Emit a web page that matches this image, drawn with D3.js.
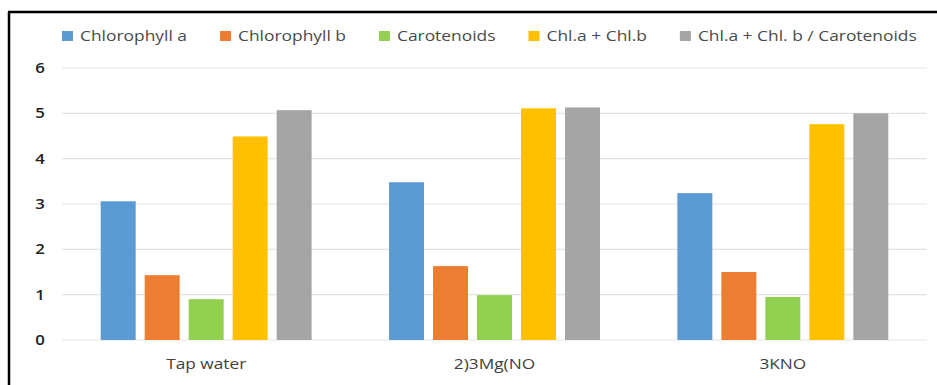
<!DOCTYPE html>
<html>
<head>
<meta charset="utf-8">
<script src="https://cdn.jsdelivr.net/npm/d3@7"></script>
<style>
  html, body { margin: 0; padding: 0; background: #fff; }
  svg { display: block; }
</style>
</head>
<body>
<svg id="chart" width="937" height="385"></svg>
<script>
// Treatments along the x axis
const categories = ["Tap water", "2)3Mg(NO", "3KNO"];
// Pigment series, one value per treatment
const seriesNames = ["Chlorophyll a", "Chlorophyll b", "Carotenoids", "Chl.a + Chl.b", "Chl.a + Chl. b / Carotenoids"];
const chlorophyllA = [3.06, 3.48, 3.24];
const chlorophyllB = [1.43, 1.63, 1.50];
const carotenoids = [0.90, 0.99, 0.95];
const chlAPlusB = [4.49, 5.11, 4.76];
const ratioToCarotenoids = [5.07, 5.13, 5.00];
const yTicks = [0, 1, 2, 3, 4, 5, 6];
const colors = ["#5b9bd5", "#ed7d31", "#92d050", "#ffc000", "#a5a5a5"];

const seriesValues = [chlorophyllA, chlorophyllB, carotenoids, chlAPlusB, ratioToCarotenoids];

const svg = d3.select("#chart");
const font = "'Open Sans', 'Noto Sans', sans-serif";
const stretch = 1.2; // wide lettering

const W = 937, H = 385;
const plotLeft = 62, plotRight = 927, plotTop = 68, plotBottom = 340;

const x0 = d3.scaleBand().domain(categories).range([plotLeft, plotRight]);
const x1 = d3.scaleBand().domain(seriesNames).range([0, x0.bandwidth()])
  .paddingInner(0.205).paddingOuter(0.88);
const y = d3.scaleLinear().domain([0, 6]).range([plotBottom, plotTop]);

// frame lines (top and left)
svg.append("line").attr("x1", 8).attr("x2", W).attr("y1", 12).attr("y2", 12)
  .attr("stroke", "#000").attr("stroke-width", 2.5);
svg.append("line").attr("x1", 9).attr("x2", 9).attr("y1", 12).attr("y2", H)
  .attr("stroke", "#000").attr("stroke-width", 2.5);

// gridlines
svg.append("g")
  .selectAll("line").data(yTicks).join("line")
  .attr("x1", plotLeft).attr("x2", plotRight)
  .attr("y1", d => y(d)).attr("y2", d => y(d))
  .attr("stroke", "#e3e3e3").attr("stroke-width", 1.2);

// y axis labels
const yAxis = d3.axisLeft(y).tickValues(yTicks).tickFormat(d3.format("d")).tickSize(0).tickPadding(0);
const gy = svg.append("g").attr("transform", "translate(40,0)").call(yAxis);
gy.select(".domain").remove();
gy.selectAll("text").attr("font-family", font).attr("font-size", 14).attr("font-weight", 600)
  .attr("fill", "#222").attr("text-anchor", "middle").attr("x", 0)
  .attr("transform", `scale(${stretch},1)`);

// bars
const groups = svg.append("g").selectAll("g").data(categories).join("g")
  .attr("transform", d => `translate(${x0(d)},0)`);
groups.selectAll("rect")
  .data((c, ci) => seriesNames.map((s, si) => ({ s, si, v: seriesValues[si][ci] })))
  .join("rect")
  .attr("x", d => x1(d.s))
  .attr("width", x1.bandwidth())
  .attr("y", d => y(d.v))
  .attr("height", d => plotBottom - y(d.v))
  .attr("fill", d => colors[d.si]);

// x axis labels
const xAxis = d3.axisBottom(x0).tickSize(0).tickPadding(0);
const gx = svg.append("g").attr("transform", `translate(0,${plotBottom + 18})`).call(xAxis);
gx.select(".domain").remove();
gx.selectAll("text").attr("font-family", font).attr("font-size", 15).attr("fill", "#404040")
  .attr("dy", "0.71em").attr("transform", `scale(${stretch * 0.96},1)`);

// legend, laid out left to right
const legend = svg.append("g").attr("transform", "translate(62,36)");
let lx = 0;
seriesNames.forEach((name, i) => {
  const item = legend.append("g").attr("transform", `translate(${lx},0)`);
  item.append("rect").attr("x", 0).attr("y", -5).attr("width", 11).attr("height", 10).attr("fill", colors[i]);
  const t = item.append("g").attr("transform", `translate(18,0) scale(${stretch},1)`)
    .append("text").attr("y", 0).attr("dy", "0.35em")
    .attr("font-family", font).attr("font-size", 14.5).attr("fill", "#4a4a4a").text(name);
  lx += 18 + t.node().getComputedTextLength() * stretch + 33;
});
</script>
</body>
</html>
